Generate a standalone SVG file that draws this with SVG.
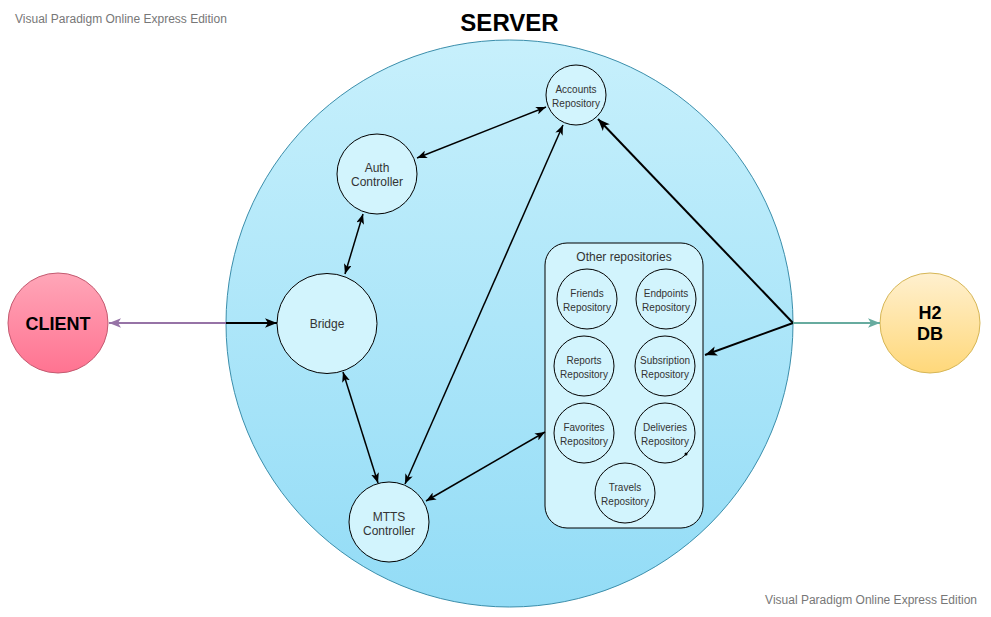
<svg xmlns="http://www.w3.org/2000/svg" width="991" height="617" viewBox="0 0 991 617">
<defs>
<linearGradient id="gServer" x1="0" y1="0" x2="0" y2="1"><stop offset="0" stop-color="#c7f0fc"/><stop offset="1" stop-color="#93dcf6"/></linearGradient>
<linearGradient id="gClient" x1="0" y1="0" x2="0" y2="1"><stop offset="0" stop-color="#ffa6b8"/><stop offset="1" stop-color="#ff7391"/></linearGradient>
<linearGradient id="gDb" x1="0" y1="0" x2="0" y2="1"><stop offset="0" stop-color="#fff0cf"/><stop offset="1" stop-color="#ffd87a"/></linearGradient>
<marker id="ah" viewBox="0 0 10 8" refX="10" refY="4" markerWidth="10" markerHeight="8" markerUnits="userSpaceOnUse" orient="auto-start-reverse"><path d="M0,0 L10,4 L0,8 L2.5,4 Z" fill="#000"/></marker>
<marker id="ahB" viewBox="0 0 10 8" refX="10" refY="4" markerWidth="12" markerHeight="10" markerUnits="userSpaceOnUse" orient="auto"><path d="M0,0 L10,4 L0,8 L2.5,4 Z" fill="#000"/></marker>
<marker id="ahP" viewBox="0 0 10 8" refX="10" refY="4" markerWidth="12" markerHeight="10" markerUnits="userSpaceOnUse" orient="auto"><path d="M0,0 L10,4 L0,8 L2.5,4 Z" fill="#9673a6"/></marker>
<marker id="ahG" viewBox="0 0 10 8" refX="10" refY="4" markerWidth="12" markerHeight="10" markerUnits="userSpaceOnUse" orient="auto"><path d="M0,0 L10,4 L0,8 L2.5,4 Z" fill="#67ab9f"/></marker>
</defs>
<style>
text{font-family:"Liberation Sans",Arial,sans-serif;text-anchor:middle;fill:#333}
.wm{fill:#777;font-size:12px}
.big{font-weight:bold;font-size:18px;fill:#000}
.inner{fill:#d2f4fd;stroke:#000;stroke-width:1}
.s10{font-size:10px}
.s12{font-size:12px}
.c{fill:none;stroke:#000;stroke-width:1.5}
.c2{fill:none;stroke:#000;stroke-width:2}
</style>
<rect width="991" height="617" fill="#fff"/>
<text class="wm" x="15" y="23" style="text-anchor:start">Visual Paradigm Online Express Edition</text>
<text class="wm" x="977" y="604" style="text-anchor:end">Visual Paradigm Online Express Edition</text>

<g id="server">
<circle cx="509.5" cy="323.5" r="283.5" fill="url(#gServer)" stroke="#3b8eab" stroke-width="1"/>
<text x="509.5" y="31" style="font-weight:bold;font-size:24px;fill:#000">SERVER</text>
</g>

<g id="client">
<circle cx="58" cy="323" r="50" fill="url(#gClient)" stroke="#c35a70" stroke-width="1"/>
<text class="big" x="58" y="329.5">CLIENT</text>
</g>

<g id="h2db">
<circle cx="930" cy="323" r="50" fill="url(#gDb)" stroke="#d6b656" stroke-width="1"/>
<text class="big" x="930" y="318.5">H2</text>
<text class="big" x="930" y="340">DB</text>
</g>

<g id="bridge">
<circle class="inner" cx="327" cy="323.5" r="50"/>
<text class="s12" x="327" y="328">Bridge</text>
</g>

<g id="auth">
<circle class="inner" cx="377" cy="174" r="40"/>
<text class="s12" x="377" y="172">Auth</text>
<text class="s12" x="377" y="186">Controller</text>
</g>

<g id="accounts">
<circle class="inner" cx="576" cy="95" r="30"/>
<text class="s10" x="576" y="93">Accounts</text>
<text class="s10" x="576" y="107">Repository</text>
</g>

<g id="mtts">
<circle class="inner" cx="389" cy="522" r="40"/>
<text class="s12" x="389" y="521">MTTS</text>
<text class="s12" x="389" y="535">Controller</text>
</g>

<g id="other">
<rect class="inner" x="545" y="243" width="158" height="285" rx="22" ry="22"/>
<text class="s12" x="624" y="261">Other repositories</text>
</g>
<g id="friends"><circle class="inner" cx="587" cy="299" r="30"/><text class="s10" x="587" y="297">Friends</text><text class="s10" x="587" y="311">Repository</text></g>
<g id="endpoints"><circle class="inner" cx="666" cy="299" r="30"/><text class="s10" x="666" y="297">Endpoints</text><text class="s10" x="666" y="311">Repository</text></g>
<g id="reports"><circle class="inner" cx="584" cy="366" r="30"/><text class="s10" x="584" y="364">Reports</text><text class="s10" x="584" y="378">Repository</text></g>
<g id="subsription"><circle class="inner" cx="665" cy="366" r="30"/><text class="s10" x="665" y="364">Subsription</text><text class="s10" x="665" y="378">Repository</text></g>
<g id="favorites"><circle class="inner" cx="584" cy="433" r="30"/><text class="s10" x="584" y="431">Favorites</text><text class="s10" x="584" y="445">Repository</text></g>
<g id="deliveries"><circle class="inner" cx="665" cy="433" r="30"/><text class="s10" x="665" y="431">Deliveries</text><text class="s10" x="665" y="445">Repository</text><circle cx="686" cy="454" r="1.5" fill="#000"/></g>
<g id="travels"><circle class="inner" cx="625" cy="493" r="30"/><text class="s10" x="625" y="491">Travels</text><text class="s10" x="625" y="505">Repository</text></g>

<g id="connectors">
<line class="c" x1="417" y1="158" x2="546" y2="107" marker-start="url(#ah)" marker-end="url(#ah)"/>
<line class="c" x1="363" y1="214" x2="345" y2="274" marker-start="url(#ah)" marker-end="url(#ah)"/>
<line class="c" x1="343" y1="372" x2="378" y2="483" marker-start="url(#ah)" marker-end="url(#ah)"/>
<line class="c" x1="563" y1="125" x2="405" y2="484" marker-start="url(#ah)" marker-end="url(#ah)"/>
<line class="c" x1="426" y1="501" x2="545" y2="432" marker-start="url(#ah)" marker-end="url(#ah)"/>
<line class="c2" x1="793" y1="323" x2="598" y2="119" marker-end="url(#ahB)"/>
<line class="c2" x1="793" y1="323" x2="705" y2="355" marker-end="url(#ahB)"/>
<line class="c2" x1="226" y1="323" x2="277" y2="323" marker-end="url(#ahB)"/>
<line fill="none" stroke="#9673a6" stroke-width="2" x1="226" y1="323" x2="109" y2="323" marker-end="url(#ahP)"/>
<line fill="none" stroke="#67ab9f" stroke-width="2" x1="793" y1="323" x2="880" y2="323" marker-end="url(#ahG)"/>
</g>
</svg>
